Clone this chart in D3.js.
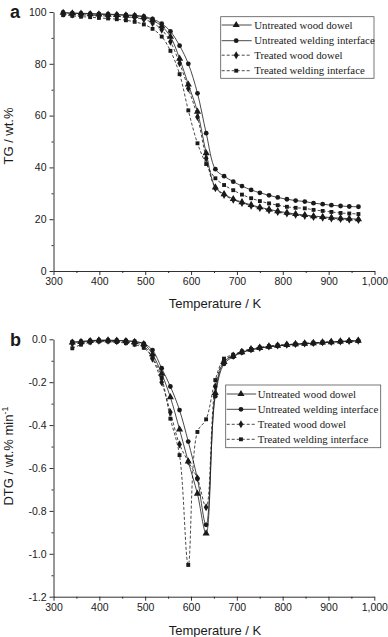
<!DOCTYPE html>
<html>
<head>
<meta charset="utf-8">
<script src="https://cdn.jsdelivr.net/npm/d3@7"></script>
<style>
  body { margin: 0; background: #fff; }
  svg { display: block; }
</style>
</head>
<body>
<svg id="chart" width="388" height="637"></svg>
<script>
// series names, in legend order
let seriesNames = ["Untreated wood dowel", "Untreated welding interface",
                   "Treated wood dowel", "Treated welding interface"];
let seriesSymbols = ["triangle", "circle", "diamond", "square"];
let seriesDashed = [false, false, true, true];

// panel a: TG
let tgTemp = [321, 341, 360, 380, 399, 419, 438, 458, 477, 497, 516, 536, 555, 575, 594, 614, 633,
              653, 672, 692, 711, 731, 750, 770, 789, 809, 828, 848, 867, 887, 906, 926, 945, 965];
let tgDowel = [99.7, 99.5, 99.4, 99.2, 99.1, 99.0, 98.9, 98.7, 98.5, 98.0, 96.8, 94.5, 90.5, 82.0, 72.0, 61.5, 45.5,
               32.3, 29.7, 27.8, 26.6, 25.5, 24.6, 23.8, 23.1, 22.5, 22.0, 21.6, 21.2, 20.9, 20.6, 20.4, 20.2, 20.0];
let tgWeld = [99.8, 99.6, 99.5, 99.4, 99.3, 99.2, 99.0, 98.9, 98.7, 98.3, 97.3, 95.5, 92.5, 87.0, 80.0, 68.6, 53.2,
              39.3, 36.6, 34.5, 32.8, 31.3, 30.2, 29.2, 28.4, 27.7, 27.2, 26.8, 26.2, 25.8, 25.4, 25.1, 24.9, 24.8];
let tgTDowel = [99.3, 99.1, 98.9, 98.8, 98.6, 98.5, 98.3, 98.1, 97.8, 97.2, 95.8, 93.2, 88.5, 80.2, 70.5, 59.5, 43.5,
                32.0, 29.4, 27.5, 26.3, 25.2, 24.3, 23.5, 22.8, 22.2, 21.7, 21.3, 20.9, 20.6, 20.3, 20.1, 19.9, 19.7];
let tgTWeld = [98.8, 98.5, 98.2, 98.0, 97.7, 97.5, 97.2, 96.8, 96.2, 95.2, 93.5, 90.5, 85.0, 76.0, 62.0, 49.3, 41.3,
               35.8, 33.2, 31.2, 29.5, 28.1, 27.0, 26.1, 25.4, 24.8, 24.4, 24.2, 23.6, 23.2, 22.8, 22.4, 22.2, 22.0];

// panel b: DTG
let dtgTemp = [341, 360, 380, 399, 419, 438, 458, 477, 497, 516, 536, 555, 575, 594, 614, 633, 653,
               672, 692, 711, 731, 750, 770, 789, 809, 828, 848, 867, 887, 906, 926, 945, 965];
let dtgDowel = [-0.015, -0.012, -0.008, -0.005, -0.005, -0.006, -0.008, -0.012, -0.022, -0.07, -0.16, -0.27, -0.42,
                -0.57, -0.72, -0.905, -0.25, -0.105, -0.078, -0.06, -0.048, -0.04, -0.034, -0.03, -0.026, -0.023,
                -0.02, -0.018, -0.015, -0.013, -0.01, -0.008, -0.007];
let dtgWeld = [-0.012, -0.01, -0.006, -0.004, -0.004, -0.005, -0.006, -0.01, -0.02, -0.05, -0.135, -0.22, -0.33,
               -0.477, -0.65, -0.865, -0.265, -0.115, -0.082, -0.062, -0.05, -0.041, -0.035, -0.031, -0.027, -0.024,
               -0.021, -0.019, -0.016, -0.014, -0.011, -0.009, -0.007];
let dtgTDowel = [-0.02, -0.016, -0.01, -0.007, -0.007, -0.009, -0.012, -0.018, -0.03, -0.09, -0.2, -0.34, -0.49,
                 -0.57, -0.648, -0.783, -0.22, -0.1, -0.076, -0.058, -0.046, -0.039, -0.033, -0.029, -0.025, -0.022,
                 -0.019, -0.017, -0.014, -0.012, -0.01, -0.008, -0.006];
let dtgTWeld = [-0.042, -0.025, -0.015, -0.01, -0.01, -0.013, -0.018, -0.025, -0.04, -0.085, -0.18, -0.37, -0.54,
                -1.052, -0.432, -0.373, -0.19, -0.09, -0.072, -0.056, -0.045, -0.038, -0.032, -0.028, -0.025, -0.022,
                -0.019, -0.016, -0.014, -0.012, -0.01, -0.008, -0.007];

// tick values
let xTicks = [300, 400, 500, 600, 700, 800, 900, 1000];
let xMinor = [350, 450, 550, 650, 750, 850, 950];
let tgTicks = [0, 20, 40, 60, 80, 100];
let tgMinor = [10, 30, 50, 70, 90];
let dtgTicks = [0.0, -0.2, -0.4, -0.6, -0.8, -1.0, -1.2];
let dtgMinor = [-0.1, -0.3, -0.5, -0.7, -0.9, -1.1];

let svg = d3.select("#chart");
let ink = "#1a1a1a";

let symbolTypes = {
    triangle: d3.symbolTriangle,
    circle: d3.symbolCircle,
    diamond: d3.symbolDiamond,
    square: d3.symbolSquare
};
let symbolSizes = { triangle: 22, circle: 18, diamond: 19, square: 15 };

function translate(x, y) {
    return "translate(" + x + "," + y + ")";
}

function drawPanel(opt) {
    let x = d3.scaleLinear().domain([300, 1000]).range(opt.xRange);
    let y = d3.scaleLinear().domain(opt.yDomain).range(opt.yRange);
    let g = svg.append("g");

    // bottom axis
    g.append("g").attr("transform", translate(0, opt.yRange[0]))
     .call(d3.axisBottom(x).tickValues(xTicks).tickSize(4).tickSizeOuter(0).tickPadding(3));
    g.append("g").attr("transform", translate(0, opt.yRange[0]))
     .call(d3.axisBottom(x).tickValues(xMinor).tickSize(2).tickSizeOuter(0).tickFormat(""))
     .select(".domain").remove();

    // left axis
    g.append("g").attr("transform", translate(opt.xRange[0], 0))
     .call(d3.axisLeft(y).tickValues(opt.yTicks).tickSize(4).tickSizeOuter(0).tickPadding(3)
             .tickFormat(opt.fmt));
    g.append("g").attr("transform", translate(opt.xRange[0], 0))
     .call(d3.axisLeft(y).tickValues(opt.yMinor).tickSize(2).tickSizeOuter(0).tickFormat(""))
     .select(".domain").remove();

    g.selectAll(".domain, .tick line").attr("stroke", ink).attr("stroke-width", 0.9);
    g.selectAll(".tick text").attr("fill", ink)
     .style("font-family", "'Liberation Sans', Arial, sans-serif").style("font-size", "10.5px");

    // lines and markers
    opt.series.forEach(function(vals, i) {
        let pts = opt.temps.map((t, k) => [t, vals[k]]);
        let line = d3.line().x(d => x(d[0])).y(d => y(d[1])).curve(d3.curveCatmullRom.alpha(0.5));
        g.append("path").datum(pts)
         .attr("d", line)
         .attr("fill", "none")
         .attr("stroke", ink)
         .attr("stroke-width", 0.8)
         .attr("stroke-dasharray", seriesDashed[i] ? "3,2" : null);
        let sym = seriesSymbols[i];
        g.selectAll(null).data(pts).enter().append("path")
         .attr("transform", d => translate(x(d[0]), y(d[1])))
         .attr("d", d3.symbol().type(symbolTypes[sym]).size(symbolSizes[sym]))
         .attr("fill", ink);
    });

    // titles
    svg.append("text")
       .attr("x", opt.xTitleX).attr("y", opt.xTitleY)
       .attr("text-anchor", "middle")
       .style("font-family", "'Liberation Sans', Arial, sans-serif").style("font-size", "13px")
       .attr("fill", ink)
       .text("Temperature / K");

    let yt = svg.append("text")
       .attr("transform", translate(opt.yTitleX, opt.yTitleY) + " rotate(-90)")
       .attr("text-anchor", "middle")
       .style("font-family", "'Liberation Sans', Arial, sans-serif").style("font-size", "13px")
       .attr("fill", ink);
    opt.yTitle(yt);

    svg.append("text")
       .attr("x", opt.letterX).attr("y", opt.letterY)
       .style("font-family", "'Liberation Sans', Arial, sans-serif").style("font-size", "18px")
       .style("font-weight", "bold")
       .attr("fill", ink)
       .text(opt.letter);

    // legend
    let lg = svg.append("g").attr("transform", translate(opt.legend.x, opt.legend.y));
    lg.append("rect")
      .attr("width", opt.legend.w).attr("height", opt.legend.h)
      .attr("fill", "#fff").attr("stroke", "#555").attr("stroke-width", 0.8);
    seriesNames.forEach(function(name, i) {
        let ry = opt.legend.rowY[i];
        lg.append("line")
          .attr("x1", 1).attr("x2", opt.legend.sample).attr("y1", ry).attr("y2", ry)
          .attr("stroke", ink).attr("stroke-width", 0.8)
          .attr("stroke-dasharray", seriesDashed[i] ? "3,2" : null);
        let sym = seriesSymbols[i];
        lg.append("path")
          .attr("transform", translate(opt.legend.sample / 2, ry))
          .attr("d", d3.symbol().type(symbolTypes[sym]).size(symbolSizes[sym]))
          .attr("fill", ink);
        lg.append("text")
          .attr("x", opt.legend.textX).attr("y", ry + 3.8)
          .style("font-family", "'Liberation Serif', 'Times New Roman', serif").style("font-size", "10.8px")
          .attr("fill", ink)
          .text(name);
    });
}

drawPanel({
    xRange: [53.5, 374.5],
    yDomain: [0, 100],
    yRange: [271, 12],
    yTicks: tgTicks,
    yMinor: tgMinor,
    fmt: d => d,
    temps: tgTemp,
    series: [tgDowel, tgWeld, tgTDowel, tgTWeld],
    xTitleX: 215,
    xTitleY: 308,
    yTitleX: 12.5,
    yTitleY: 136,
    yTitle: t => t.text("TG / wt.%"),
    letter: "a",
    letterX: 10,
    letterY: 18,
    legend: { x: 220.7, y: 16.7, w: 153.3, h: 61.6, rowY: [8.3, 24, 38.5, 54], sample: 31, textX: 33.5 }
});

drawPanel({
    xRange: [53.5, 374.3],
    yDomain: [-1.2, 0],
    yRange: [596.7, 339.3],
    yTicks: dtgTicks,
    yMinor: dtgMinor,
    fmt: d => d.toFixed(1),
    temps: dtgTemp,
    series: [dtgDowel, dtgWeld, dtgTDowel, dtgTWeld],
    xTitleX: 215,
    xTitleY: 635,
    yTitleX: 12.5,
    yTitleY: 456,
    yTitle: function(t) {
        t.append("tspan").text("DTG / wt.% min");
        t.append("tspan").attr("dy", -5).style("font-size", "9px").text("-1");
    },
    letter: "b",
    letterX: 10,
    letterY: 346,
    legend: { x: 225.7, y: 385, w: 155, h: 62.7, rowY: [9, 24.3, 39.3, 54.3], sample: 30.5, textX: 32 }
});
</script>
</body>
</html>
